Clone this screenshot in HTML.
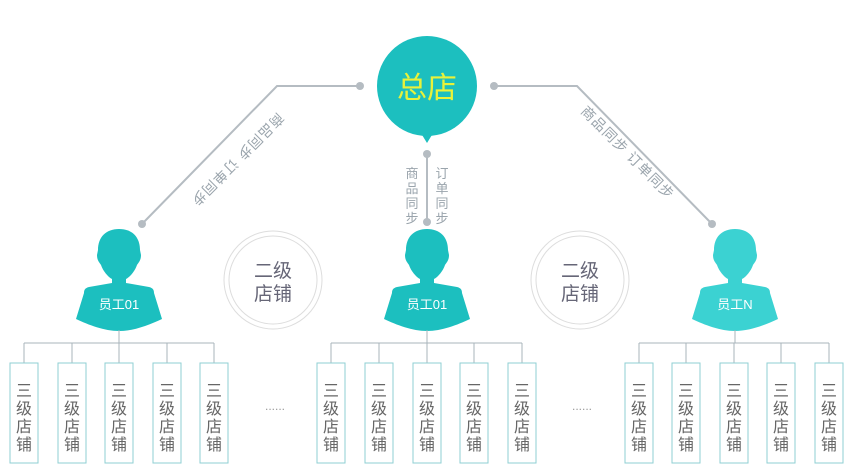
<!DOCTYPE html><html><head><meta charset="utf-8"><style>body{margin:0;background:#fff}svg{display:block}text{font-family:"Liberation Sans","Noto Sans CJK SC",sans-serif}</style></head><body>
<svg width="858" height="470" viewBox="0 0 858 470" xmlns="http://www.w3.org/2000/svg">
<defs>
<g id="p">
<path d="M0,-78 C-13,-78 -21,-70 -21,-57 L-22,-52 C-22,-46 -19,-44 -18,-42 C-16,-36 -11,-30 -7,-28 L-7,-24 L-30,-20 C-34,-19 -35,-17 -35,-14 L-43,12 C-30,18 -15,24 0,24 C15,24 30,18 43,12 L35,-14 C35,-17 34,-19 30,-20 L7,-24 L7,-28 C11,-30 16,-36 18,-42 C19,-44 22,-46 22,-52 L21,-57 C21,-70 13,-78 0,-78Z"/>
</g>
<g id="b"><rect x="0" y="0" width="28" height="100" fill="#fff" stroke="#8fcfd3" stroke-width="1"/>
<text x="14" y="33" font-size="16" fill="#666" text-anchor="middle">三</text><text x="14" y="51" font-size="16" fill="#666" text-anchor="middle">级</text><text x="14" y="69" font-size="16" fill="#666" text-anchor="middle">店</text><text x="14" y="87" font-size="16" fill="#666" text-anchor="middle">铺</text></g>
</defs>
<g stroke="#b5bcc2" stroke-width="2" fill="none">
<polyline points="360,86 277,86 142,224"/>
<polyline points="494,86 577,86 712,224"/>
<line x1="427" y1="154" x2="427" y2="222"/>
</g>
<g fill="#b5bcc2"><circle cx="360" cy="86" r="4"/><circle cx="142" cy="224" r="4"/><circle cx="494" cy="86" r="4"/><circle cx="712" cy="224" r="4"/><circle cx="427" cy="154" r="4"/><circle cx="427" cy="222" r="4"/></g>
<circle cx="427" cy="86" r="50" fill="#1cbfbf"/>
<path d="M419,130 L427,143 L435,130Z" fill="#1cbfbf"/>
<text x="427" y="98" font-size="30" fill="#e8f23a" text-anchor="middle">总店</text>
<g font-size="14" fill="#9aa4ac" letter-spacing="1">
<text transform="translate(278,112) rotate(135)">商品同步  订单同步</text>
<text transform="translate(580,112) rotate(45)">商品同步  订单同步</text>
</g>
<g font-size="13" fill="#9aa4ac" text-anchor="middle">
<text x="412" y="178">商</text><text x="412" y="193">品</text><text x="412" y="208">同</text><text x="412" y="223">步</text>
<text x="442" y="178">订</text><text x="442" y="193">单</text><text x="442" y="208">同</text><text x="442" y="223">步</text>
</g>
<g fill="none" stroke="#ddd"><circle cx="273" cy="280" r="49"/><circle cx="273" cy="280" r="44"/><circle cx="580" cy="280" r="49"/><circle cx="580" cy="280" r="44"/></g>
<g font-size="19" fill="#667" text-anchor="middle"><text x="273" y="277">二级</text><text x="273" y="300">店铺</text><text x="580" y="277">二级</text><text x="580" y="300">店铺</text></g>
<use href="#p" x="119" y="307" fill="#1cbfbf"/>
<use href="#p" x="427" y="307" fill="#1cbfbf"/>
<use href="#p" x="735" y="307" fill="#3bd2d2"/>
<g font-size="13" fill="#fff" text-anchor="middle"><text x="119" y="309">员工01</text><text x="427" y="309">员工01</text><text x="735" y="309">员工N</text></g>
<g stroke="#a9b4bb" stroke-width="1" fill="none">
<path d="M119,330V343 M24,343H214 M24,343V363 M72,343V363 M119,343V363 M167,343V363 M214,343V363"/>
<path d="M427,330V343 M331,343H522 M331,343V363 M379,343V363 M427,343V363 M474,343V363 M522,343V363"/>
<path d="M735,330V343 M639,343H829 M639,343V363 M686,343V363 M734,343V363 M781,343V363 M829,343V363"/>
</g>
<use href="#b" x="10" y="363"/><use href="#b" x="58" y="363"/><use href="#b" x="105" y="363"/><use href="#b" x="153" y="363"/><use href="#b" x="200" y="363"/>
<use href="#b" x="317" y="363"/><use href="#b" x="365" y="363"/><use href="#b" x="413" y="363"/><use href="#b" x="460" y="363"/><use href="#b" x="508" y="363"/>
<use href="#b" x="625" y="363"/><use href="#b" x="672" y="363"/><use href="#b" x="720" y="363"/><use href="#b" x="767" y="363"/><use href="#b" x="815" y="363"/>
<g font-size="12" fill="#999" text-anchor="middle"><text x="275" y="410">......</text><text x="582" y="410">......</text></g>
</svg></body></html>
